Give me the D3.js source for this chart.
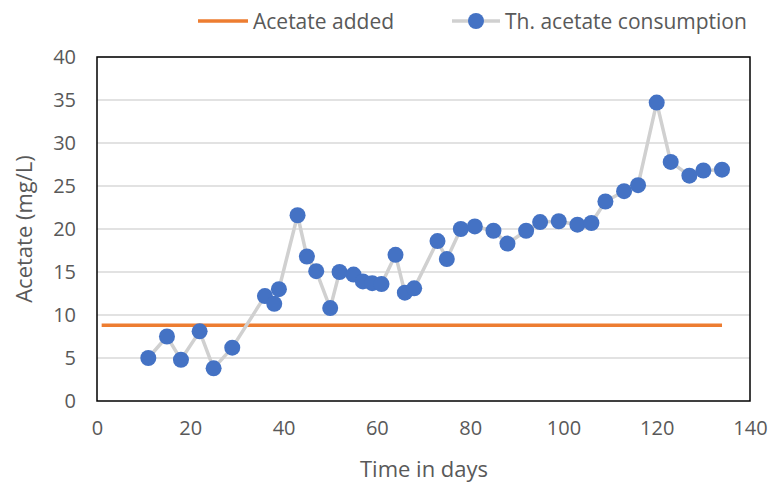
<!DOCTYPE html>
<html><head><meta charset="utf-8">
<script src="https://cdn.jsdelivr.net/npm/d3@7"></script>
<style>body{margin:0;background:#fff}svg{display:block}text{font-family:"Open Sans",sans-serif;fill:#595959}</style>
</head><body><svg id="c" width="769" height="482"></svg>
<script>
const days = [11,15,18,22,25,29,36,38,39,43,45,47,50,52,55,57,59,61,64,66,68,73,75,78,81,85,88,92,95,99,103,106,109,113,116,120,123,127,130,134];
const consumption = [5.0,7.5,4.8,8.1,3.8,6.2,12.2,11.3,13.0,21.6,16.8,15.1,10.8,15.0,14.7,13.9,13.7,13.6,17.0,12.6,13.1,18.6,16.5,20.0,20.3,19.8,18.3,19.8,20.8,20.9,20.5,20.7,23.2,24.4,25.1,34.7,27.8,26.2,26.8,26.9];
const addedDays = [1,134];
const addedValues = [8.8,8.8];
const xTicks = [0,20,40,60,80,100,120,140];
const yTicks = [0,5,10,15,20,25,30,35,40];
const seriesNames = ["Acetate added","Th. acetate consumption"];

const svg = d3.select("#c");
const L=97,R=750,T=57,B=401;
const x = d3.scaleLinear().domain([0,140]).range([L,R]);
const y = d3.scaleLinear().domain([0,40]).range([B,T]);

svg.append("g").selectAll("line").data(yTicks.slice(1)).join("line")
  .attr("x1",L).attr("x2",R).attr("y1",d=>y(d)).attr("y2",d=>y(d))
  .attr("stroke","#d9d9d9").attr("stroke-width",1.5);

const ya = svg.append("g").attr("transform",`translate(${L},0)`)
  .call(d3.axisLeft(y).tickValues(yTicks).tickSize(0).tickPadding(21));
ya.select(".domain").remove();
ya.selectAll("text").style("font-size","20px").attr("fill","#595959");
const xa = svg.append("g").attr("transform",`translate(0,${B})`)
  .call(d3.axisBottom(x).tickValues(xTicks).tickSize(0).tickPadding(20));
xa.select(".domain").remove();
xa.selectAll("text").style("font-size","20px").attr("fill","#595959");

const addedData = addedDays.map((d,i)=>[d,addedValues[i]]);
svg.append("path").datum(addedData)
  .attr("d",d3.line().x(d=>x(d[0])).y(d=>y(d[1])))
  .attr("stroke","#ed7d31").attr("stroke-width",3.5).attr("fill","none");

const cons = days.map((d,i)=>[d,consumption[i]]);
svg.append("path").datum(cons)
  .attr("d",d3.line().x(d=>x(d[0])).y(d=>y(d[1])))
  .attr("stroke","#d0d0d0").attr("stroke-width",3.5).attr("fill","none").attr("stroke-linejoin","round");
svg.append("g").selectAll("circle").data(cons).join("circle")
  .attr("cx",d=>x(d[0])).attr("cy",d=>y(d[1])).attr("r",8)
  .attr("fill","#4472c4");

svg.append("rect").attr("x",L).attr("y",T).attr("width",R-L).attr("height",B-T)
  .attr("fill","none").attr("stroke","#000").attr("stroke-width",1.5);

svg.append("text").attr("x",424).attr("y",477).attr("text-anchor","middle")
  .style("font-size","22px").text("Time in days");
svg.append("text").attr("transform",`translate(32,${(T+B)/2}) rotate(-90)`).attr("text-anchor","middle")
  .style("font-size","22px").text("Acetate (mg/L)");

const lg = svg.append("g");
lg.append("line").attr("x1",198).attr("x2",248).attr("y1",21).attr("y2",21)
  .attr("stroke","#ed7d31").attr("stroke-width",3.5);
lg.append("text").attr("x",253).attr("y",29).style("font-size","21px").text(seriesNames[0]);
lg.append("line").attr("x1",452).attr("x2",500).attr("y1",21).attr("y2",21)
  .attr("stroke","#d0d0d0").attr("stroke-width",3.5);
lg.append("circle").attr("cx",476).attr("cy",21).attr("r",8).attr("fill","#4472c4");
lg.append("text").attr("x",505).attr("y",29).style("font-size","21px").text(seriesNames[1]);
</script></body></html>
